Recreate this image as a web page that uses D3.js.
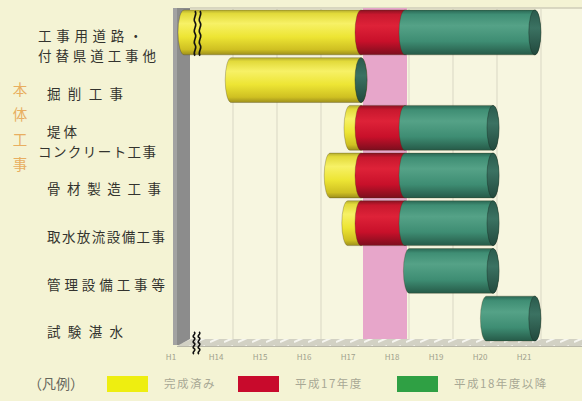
<!DOCTYPE html>
<html>
<head>
<meta charset="utf-8">
<script src="https://cdn.jsdelivr.net/npm/d3@7"></script>
<style>
  body { margin: 0; background: #f4f3d4; }
  svg { display: block; }
  text { font-family: "Noto Sans CJK JP", sans-serif; }
</style>
</head>
<body>
<svg id="chart" width="582" height="401"></svg>
<script>
// データ
const tasks = ['工事用道路・\n付替県道工事他', '掘削工事', '堤体\nコンクリート工事', '骨材製造工事', '取水放流設備工事', '管理設備工事等', '試験湛水'];
const tickYears = [1, 14, 15, 16, 17, 18, 19, 20, 21];
const tickLabels = ['H1', 'H14', 'H15', 'H16', 'H17', 'H18', 'H19', 'H20', 'H21'];
// 完成済み
const doneStart = [1, 14.05, 16.75, 16.3, 16.7, null, null];
const doneEnd = [17, 17, 17, 17, 17, null, null];
// 平成17年度
const fy17Start = [17, null, 17, 17, 17, null, null];
const fy17End = [18, null, 18, 18, 18, null, null];
// 平成18年度以降
const laterStart = [18, null, 18, 18, 18, 18.1, 19.85];
const laterEnd = [20.95, null, 20, 20, 20, 20, 20.95];
const legendLabels = ['完成済み', '平成17年度', '平成18年度以降'];
const sideLabel = ['本', '体', '工', '事'];
const currentYear = 17;

const svg = d3.select('#chart');
const defs = svg.append('defs');

// 縦のグラデーション（円柱）
function grad(id, stops) {
  const g = defs.append('linearGradient').attr('id', id)
    .attr('x1', 0).attr('y1', 0).attr('x2', 0).attr('y2', 1);
  stops.forEach(s => g.append('stop').attr('offset', s[0]).attr('stop-color', s[1]));
}
grad('gYellow', [[0, '#b4ac30'], [0.08, '#e2da3a'], [0.3, '#f7f166'], [0.6, '#ede534'], [0.88, '#cfc022'], [1, '#9c8e1c']]);
grad('gRed', [[0, '#8a1222'], [0.1, '#c8182e'], [0.35, '#de2238'], [0.7, '#c8102a'], [1, '#7c0e1e']]);
grad('gGreen', [[0, '#2a6653'], [0.1, '#3f8e74'], [0.35, '#55a287'], [0.7, '#3e8d73'], [1, '#265a48']]);
grad('gCap', [[0, '#2a5a4c'], [0.4, '#3b7262'], [1, '#22493d']]);

// 床のハッチング
const pat = defs.append('pattern').attr('id', 'floor')
  .attr('width', 14).attr('height', 8).attr('patternUnits', 'userSpaceOnUse');
pat.append('rect').attr('width', 14).attr('height', 8).attr('fill', '#d2d1c4');
pat.append('path').attr('d', 'M0,6 L9,2').attr('stroke', '#f6f6f0').attr('stroke-width', 2);

// スケール（途中省略の軸）
const xScale = d3.scaleLinear()
  .domain([1, 14, 22])
  .range([184, 229, 581]);

const yScale = d3.scaleBand()
  .domain(tasks)
  .range([10, 341])
  .paddingInner(0.06);

const plotTop = 8, plotBottom = 340;

// 背景
svg.append('rect').attr('x', 190).attr('y', plotTop).attr('width', 392).attr('height', plotBottom - plotTop)
  .attr('fill', '#f7f6e0');
svg.append('line').attr('x1', 190).attr('x2', 582).attr('y1', plotTop).attr('y2', plotTop)
  .attr('stroke', '#cfcdb8').attr('stroke-width', 1.5);

// グリッド
svg.append('g').selectAll('line')
  .data(tickYears.slice(1))
  .enter().append('line')
  .attr('x1', d => xScale(d) + 4).attr('x2', d => xScale(d) + 4)
  .attr('y1', plotTop).attr('y2', plotBottom)
  .attr('stroke', '#d9d7c4').attr('stroke-width', 1);

// 今年度の帯
svg.append('rect')
  .attr('x', xScale(currentYear) + 2)
  .attr('width', xScale(currentYear + 1) - xScale(currentYear))
  .attr('y', plotTop).attr('height', plotBottom - plotTop + 5)
  .attr('fill', '#e7a6ca');

// 左の壁と床
svg.append('rect').attr('x', 173).attr('y', plotTop).attr('width', 17).attr('height', plotBottom - plotTop + 5)
  .attr('fill', '#8c8c8c');
svg.append('rect').attr('x', 173).attr('y', plotTop).attr('width', 4).attr('height', plotBottom - plotTop + 5)
  .attr('fill', '#a2a2a2');
svg.append('path')
  .attr('d', 'M177,' + (plotBottom + 6) + ' L190,' + (plotBottom - 1) + ' L582,' + (plotBottom - 1) + ' L582,' + (plotBottom + 6) + ' Z')
  .attr('fill', 'url(#floor)');
svg.append('line').attr('x1', 177).attr('x2', 582).attr('y1', plotBottom + 6.5).attr('y2', plotBottom + 6.5)
  .attr('stroke', '#b8b7a8');

// 円柱の描画
const rx = 6;
function cylinder(g, x0, x1, y, h, fill) {
  const yb = y + h;
  g.append('path')
    .attr('d', 'M' + x0 + ',' + y + ' L' + x1 + ',' + y +
      ' A' + rx + ',' + (h / 2) + ' 0 0 1 ' + x1 + ',' + yb +
      ' L' + x0 + ',' + yb +
      ' A' + rx + ',' + (h / 2) + ' 0 0 1 ' + x0 + ',' + y + ' Z')
    .attr('fill', fill)
    .attr('stroke', 'rgba(60,50,20,0.35)').attr('stroke-width', 0.8);
}

const bars = svg.append('g');
tasks.forEach((t, i) => {
  const y = yScale(t), h = yScale.bandwidth();
  const g = bars.append('g');
  const segs = [
    [doneStart[i], doneEnd[i], 'url(#gYellow)'],
    [fy17Start[i], fy17End[i], 'url(#gRed)'],
    [laterStart[i], laterEnd[i], 'url(#gGreen)']
  ].filter(s => s[0] !== null);
  segs.forEach(s => cylinder(g, xScale(s[0]), xScale(s[1]), y, h, s[2]));
  const last = segs[segs.length - 1];
  g.append('ellipse')
    .attr('cx', xScale(last[1])).attr('cy', y + h / 2)
    .attr('rx', rx).attr('ry', h / 2)
    .attr('fill', 'url(#gCap)')
    .attr('stroke', 'rgba(20,40,30,0.5)').attr('stroke-width', 0.8);
});

// 省略記号
function breakMark(x, y0, y1) {
  const n = 4, step = (y1 - y0) / n;
  [0, 5].forEach(off => {
    let d = 'M' + (x + off) + ',' + y0;
    for (let k = 0; k < n; k++) {
      const ya = y0 + k * step;
      d += ' C' + (x + off + 3) + ',' + (ya + step * 0.33) + ' ' + (x + off - 3) + ',' + (ya + step * 0.66) + ' ' + (x + off) + ',' + (ya + step);
    }
    svg.append('path').attr('d', d).attr('fill', 'none')
      .attr('stroke', '#111').attr('stroke-width', 1.6);
  });
}
breakMark(195, yScale(tasks[0]) + 1, yScale(tasks[0]) + yScale.bandwidth() + 1);
breakMark(194, plotBottom - 8, plotBottom + 14);

// 軸ラベル
svg.append('g').selectAll('text')
  .data(tickYears)
  .enter().append('text')
  .attr('x', d => xScale(d) - 13)
  .attr('y', 360)
  .attr('text-anchor', 'middle')
  .attr('font-size', 8)
  .attr('fill', '#a0a08c')
  .text((d, i) => tickLabels[i]);

// 項目名
const labels = svg.append('g');
tasks.forEach(t => {
  const lines = t.split('\n');
  const cy = yScale(t) + yScale.bandwidth() / 2 + 14;
  lines.forEach((line, k) => {
    const n = line.replace('・', '').length + (line.includes('・') ? 0.5 : 0);
    labels.append('text')
      .attr('x', lines.length > 1 && n > 2 ? 38 : 47)
      .attr('y', cy + (k - (lines.length - 1) / 2) * 20)
      .attr('dy', '0.35em')
      .attr('font-size', 13.5)
      .attr('textLength', n <= 2 ? n * 15 : Math.min(n * 19, 118))
      .attr('lengthAdjust', 'spacing')
      .attr('fill', '#33332e')
      .text(line);
  });
});

// 本体工事（縦書き）
svg.append('g').selectAll('text')
  .data(sideLabel)
  .enter().append('text')
  .attr('x', 20)
  .attr('y', (d, i) => 90 + i * 25)
  .attr('dy', '0.35em')
  .attr('text-anchor', 'middle')
  .attr('font-size', 14.5)
  .attr('fill', '#e8ae60')
  .text(d => d);

// 凡例
const legendColors = ['#eeee10', '#c80a2c', '#2fa044'];
const legendX = [107, 238, 397];
svg.append('text').attr('x', 28).attr('y', 384).attr('dy', '0.35em')
  .attr('font-size', 14).attr('fill', '#66665c').text('（凡例）');
const lg = svg.append('g').selectAll('g')
  .data(legendLabels)
  .enter().append('g')
  .attr('transform', (d, i) => 'translate(' + legendX[i] + ',376)');
lg.append('rect').attr('width', 41).attr('height', 16)
  .attr('fill', (d, i) => legendColors[i]);
lg.append('text').attr('x', 57).attr('y', 8).attr('dy', '0.35em')
  .attr('font-size', 11.5).attr('letter-spacing', 1.5)
  .attr('fill', '#a8a894').text(d => d);
</script>
</body>
</html>
